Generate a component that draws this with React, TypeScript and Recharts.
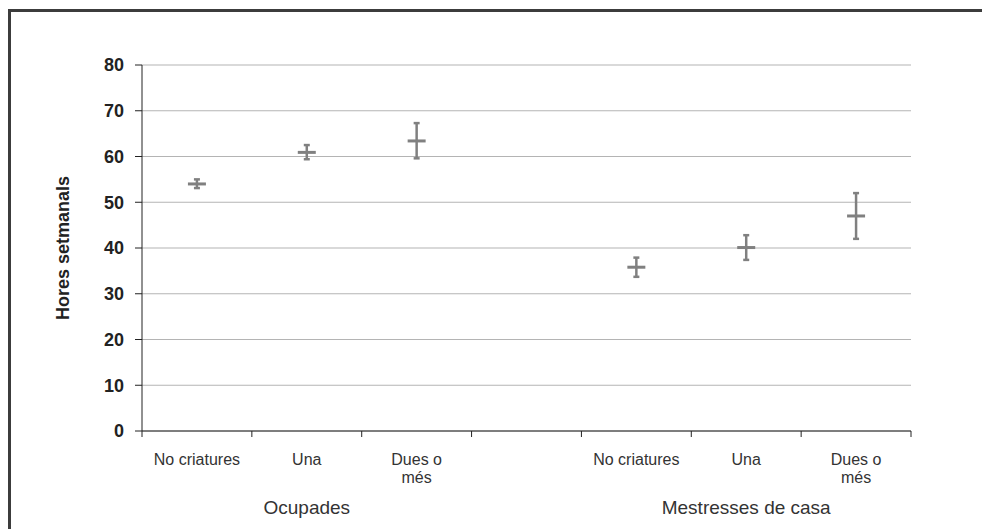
import React from "react";
import {
  ComposedChart,
  Scatter,
  ErrorBar,
  XAxis,
  YAxis,
  CartesianGrid,
} from "recharts";

// one slot per category, the 4th slot is an empty gap between the two groups
const categories = [
  "No criatures",
  "Una",
  "Dues o\nmés",
  "",
  "No criatures",
  "Una",
  "Dues o\nmés",
];
const means = [54.0, 60.9, 63.4, null, 35.8, 40.1, 47.0];
const lowerBounds = [53.1, 59.4, 59.6, null, 33.7, 37.4, 42.0];
const upperBounds = [55.0, 62.5, 67.3, null, 37.9, 42.8, 52.0];

const groups = ["Ocupades", "Mestresses de casa"];
const groupSlots = [1, 5];

const yTicks = [0, 10, 20, 30, 40, 50, 60, 70, 80];

const MARKER = "#808080";
const AXIS = "#222";
const FONT = "'Liberation Sans', Arial, sans-serif";

const slotTicks = categories.map((_, i) => i).concat(categories.length);
const labelTicks = categories.map((_, i) => i + 0.5);
const groupTicks = groupSlots.map((s) => s + 0.5);

const data = means
  .map((m, i) =>
    m == null
      ? null
      : {
          x: i + 0.5,
          y: m,
          err: [m - (lowerBounds[i] as number), (upperBounds[i] as number) - m],
        }
  )
  .filter(Boolean);

const MeanMark = (props: any) => {
  const { cx, cy } = props;
  if (cx == null || cy == null) return <g />;
  return (
    <line
      x1={cx - 9}
      x2={cx + 9}
      y1={cy}
      y2={cy}
      stroke={MARKER}
      strokeWidth={3}
    />
  );
};

const CategoryTick = (props: any) => {
  const { x, y, payload } = props;
  const label = categories[Math.floor(payload.value)] || "";
  const lines = label.split("\n");
  return (
    <text
      x={x}
      y={y}
      textAnchor="middle"
      fontFamily={FONT}
      fontSize={16}
      fill="#333"
    >
      {lines.map((line, i) => (
        <tspan key={i} x={x} dy={i === 0 ? 24 : 18}>
          {line}
        </tspan>
      ))}
    </text>
  );
};

const GroupTick = (props: any) => {
  const { x, y, payload } = props;
  const idx = groupTicks.indexOf(payload.value);
  return (
    <text
      x={x}
      y={y + 23}
      textAnchor="middle"
      fontFamily={FONT}
      fontSize={19}
      fill="#333"
    >
      {groups[idx] || ""}
    </text>
  );
};

const YLabel = (props: any) => {
  const { viewBox } = props;
  const cx = viewBox.x + 21;
  const cy = viewBox.y + viewBox.height / 2;
  return (
    <text
      x={cx}
      y={cy}
      transform={`rotate(-90, ${cx}, ${cy})`}
      textAnchor="middle"
      dominantBaseline="central"
      fontFamily={FONT}
      fontWeight="bold"
      fontSize={18}
      fill="#222"
    >
      Hores setmanals
    </text>
  );
};

export default function App() {
  return (
    <div
      style={{
        position: "absolute",
        left: 0,
        top: 0,
        width: 982,
        height: 529,
        background: "#fff",
        overflow: "hidden",
      }}
    >
      <div
        style={{
          position: "absolute",
          left: 8,
          top: 9,
          width: 1000,
          height: 600,
          borderLeft: "3px solid #3c3c3c",
          borderTop: "3px solid #3c3c3c",
        }}
      />
      <div style={{ position: "absolute", left: 0, top: 0 }}>
        <ComposedChart
          width={982}
          height={529}
          data={data}
          margin={{ top: 65, right: 71, left: 42, bottom: 0 }}
        >
          <CartesianGrid
            xAxisId="a_main"
            vertical={false}
            stroke="#b4b4b4"
            strokeWidth={1.2}
          />
          <XAxis
            xAxisId="a_main"
            dataKey="x"
            type="number"
            domain={[0, categories.length]}
            ticks={slotTicks}
            interval={0}
            height={10}
            axisLine={{ stroke: AXIS }}
            tickLine={{ stroke: AXIS }}
            tickSize={6}
            tick={() => <g />}
          />
          <XAxis
            xAxisId="b_cats"
            dataKey="x"
            type="number"
            domain={[0, categories.length]}
            ticks={labelTicks}
            interval={0}
            height={50}
            axisLine={false}
            tickLine={false}
            tickSize={0}
            tickMargin={0}
            tick={<CategoryTick />}
          />
          <XAxis
            xAxisId="c_groups"
            dataKey="x"
            type="number"
            domain={[0, categories.length]}
            ticks={groupTicks}
            interval={0}
            height={38}
            axisLine={false}
            tickLine={false}
            tickSize={0}
            tickMargin={0}
            tick={<GroupTick />}
          />
          <YAxis
            type="number"
            domain={[0, 80]}
            ticks={yTicks}
            interval={0}
            width={100}
            axisLine={{ stroke: AXIS }}
            tickLine={{ stroke: AXIS }}
            tickSize={7}
            tickMargin={11}
            tick={{
              fontFamily: FONT,
              fontWeight: "bold",
              fontSize: 18,
              fill: "#222",
            }}
            label={{ content: <YLabel /> }}
          />
          <Scatter
            xAxisId="a_main"
            dataKey="y"
            fill={MARKER}
            shape={<MeanMark />}
            isAnimationActive={false}
          >
            <ErrorBar
              dataKey="err"
              direction="y"
              width={3}
              strokeWidth={2.5}
              stroke={MARKER}
            />
          </Scatter>
        </ComposedChart>
      </div>
    </div>
  );
}
